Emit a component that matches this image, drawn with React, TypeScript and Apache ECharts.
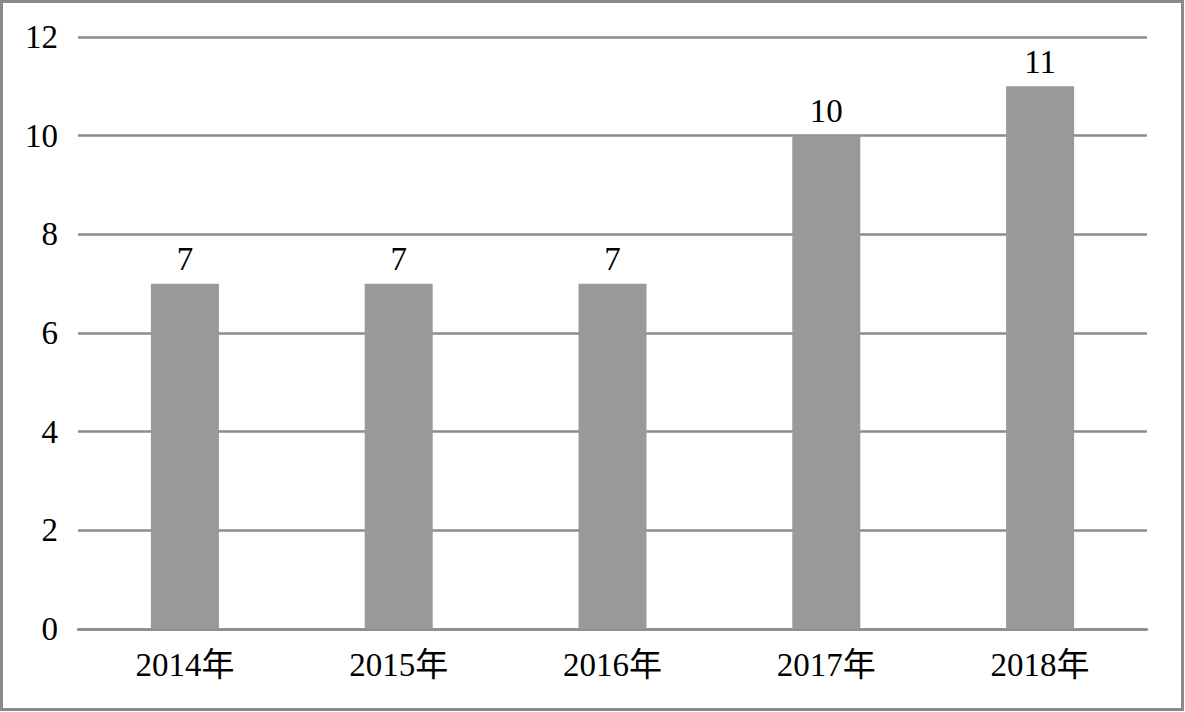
import React, { useEffect, useRef } from "react";
import * as echarts from "echarts";

const categories = ["2014年", "2015年", "2016年", "2017年", "2018年"];
const values = [7, 7, 7, 10, 11];
const yTicks = [0, 2, 4, 6, 8, 10, 12];

export default function App() {
  const ref = useRef<HTMLDivElement>(null);
  useEffect(() => {
    if (!ref.current) return;
    const chart = echarts.init(ref.current, undefined, { renderer: "svg" });
    const font = "'Liberation Serif', 'Times New Roman', 'Noto Sans CJK SC', serif";
    chart.setOption({
      animation: false,
      backgroundColor: "#ffffff",
      textStyle: { fontFamily: font },
      graphic: [
        {
          type: "rect",
          shape: { x: 1.5, y: 1.5, width: 1181, height: 708 },
          style: { fill: "none", stroke: "#8a8a8a", lineWidth: 3 },
          silent: true,
        },
      ],
      grid: { left: 78, right: 38, top: 37, bottom: 83, containLabel: false },
      xAxis: {
        type: "category",
        data: categories,
        axisLine: { show: true, lineStyle: { color: "#8c8c8c", width: 2.5 } },
        axisTick: { show: false },
        axisLabel: { color: "#000", fontSize: 33, fontFamily: font, margin: 19 },
      },
      yAxis: {
        type: "value",
        min: yTicks[0],
        max: yTicks[yTicks.length - 1],
        interval: 2,
        axisLine: { show: false },
        axisTick: { show: false },
        axisLabel: { color: "#000", fontSize: 33, fontFamily: font, margin: 20 },
        splitLine: { lineStyle: { color: "#8c8c8c", width: 2.5 } },
      },
      series: [
        {
          type: "bar",
          data: values,
          barWidth: 68,
          itemStyle: { color: "#999999" },
          label: {
            show: true,
            position: "top",
            distance: 8,
            color: "#000",
            fontSize: 33,
            fontFamily: font,
          },
        },
      ],
    });
    return () => chart.dispose();
  }, []);
  return (
    <div
      ref={ref}
      style={{ position: "fixed", left: 0, top: 0, width: 1185, height: 712 }}
    />
  );
}
